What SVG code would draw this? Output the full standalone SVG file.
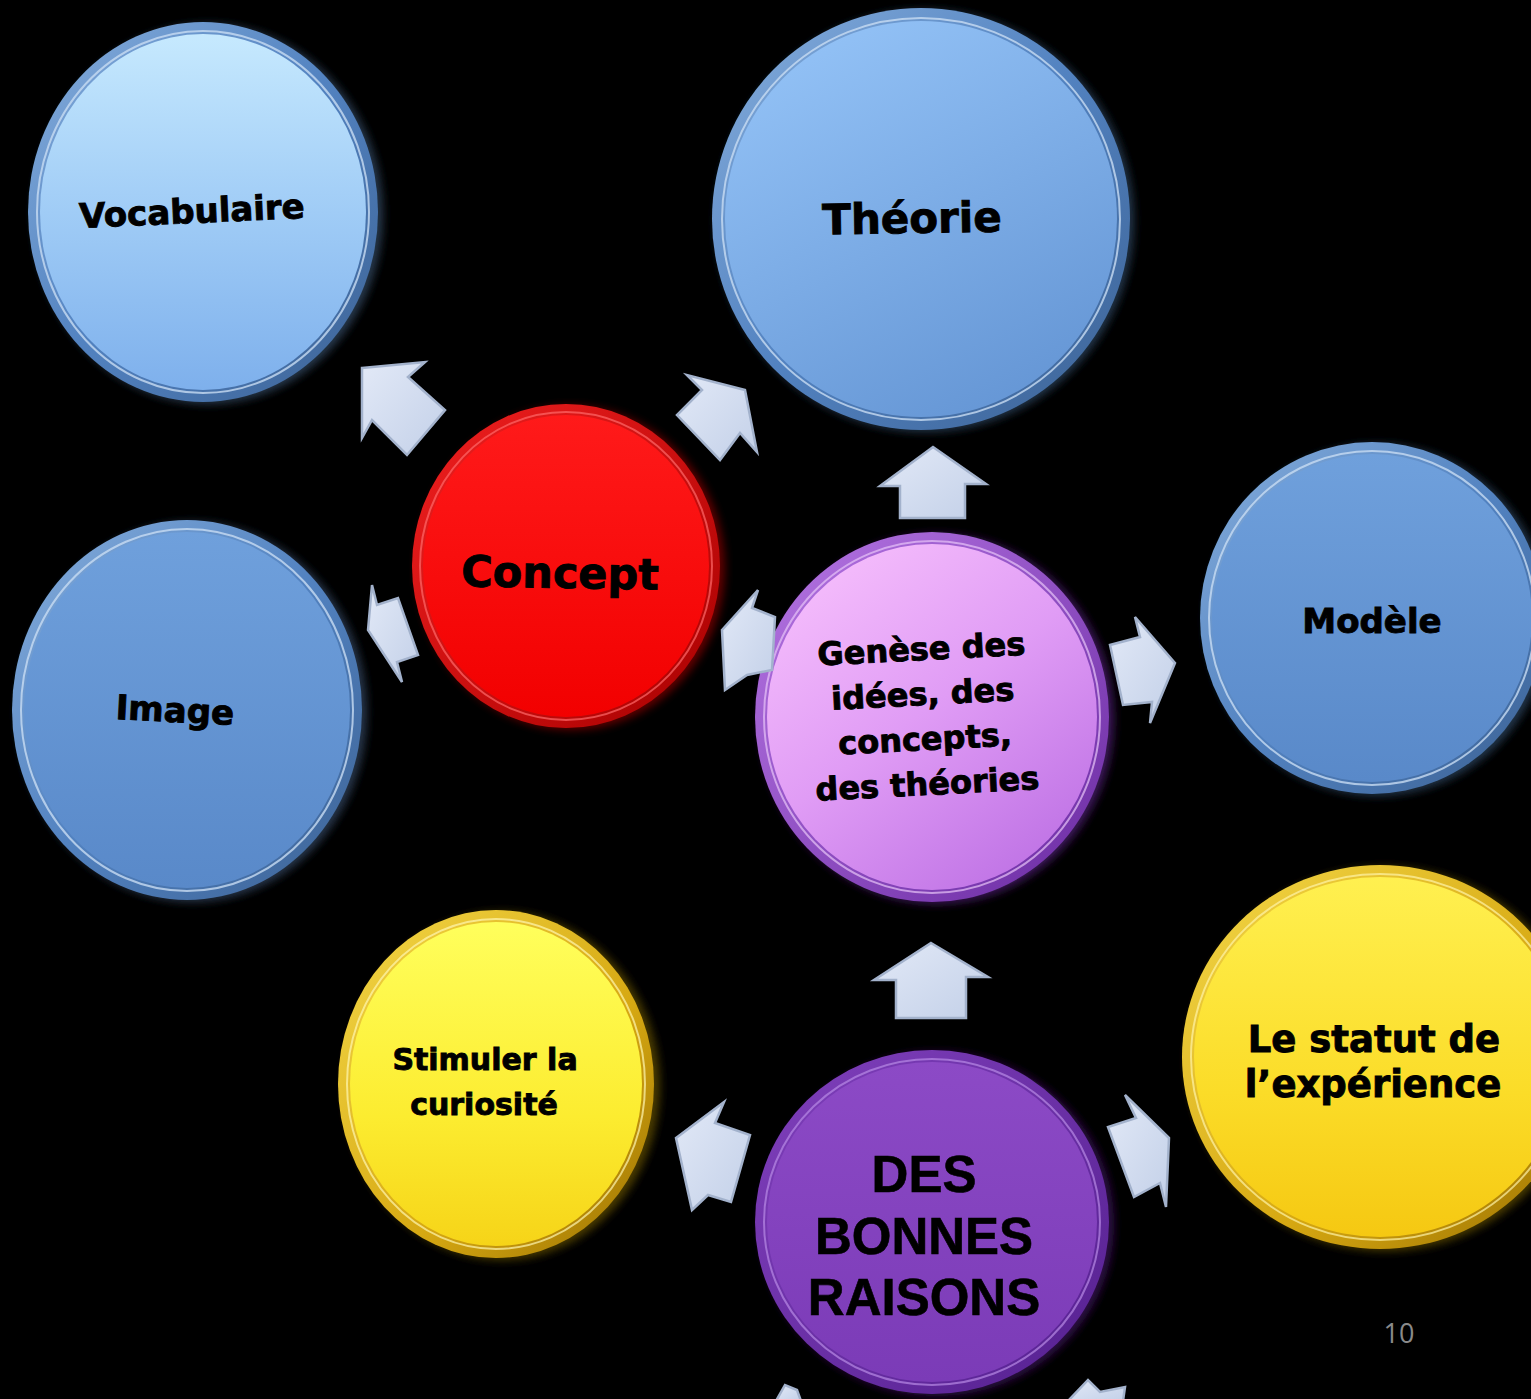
<svg xmlns="http://www.w3.org/2000/svg" width="1531" height="1399" viewBox="0 0 1531 1399">
  <defs>
    <style>
      .lbl { font-family: "DejaVu Sans", "Liberation Sans", sans-serif; font-weight: bold; fill: #000; stroke: #000; stroke-width: 0.9; text-anchor: middle; }
      .lbl2 { font-family: "Liberation Sans", Arial, sans-serif; font-weight: bold; fill: #000; stroke: #000; stroke-width: 0.6; text-anchor: middle; }
      .hl { fill: none; stroke-width: 2; }
      .arrow { fill: url(#gArrow); stroke: #a3b2cc; stroke-width: 2.5; stroke-linejoin: miter; }
      .page { font-family: "Open Sans", "Liberation Sans", sans-serif; font-size: 27px; fill: #8a8a8a; text-anchor: middle; }
    </style>
    <filter id="soft" x="-20%" y="-20%" width="140%" height="140%">
      <feGaussianBlur stdDeviation="4"/>
    </filter>
    <!-- bodies -->
    <linearGradient id="gVocab" x1="0" y1="0" x2="0" y2="1">
      <stop offset="0" stop-color="#c6e9fe"/>
      <stop offset="0.5" stop-color="#a0ccf6"/>
      <stop offset="1" stop-color="#7eb0ec"/>
    </linearGradient>
    <linearGradient id="gTheo" x1="0.2" y1="0" x2="0.7" y2="1">
      <stop offset="0" stop-color="#94c3f7"/>
      <stop offset="1" stop-color="#6596d5"/>
    </linearGradient>
    <linearGradient id="gBlue" x1="0" y1="0" x2="0" y2="1">
      <stop offset="0" stop-color="#6fa0dc"/>
      <stop offset="1" stop-color="#5989c9"/>
    </linearGradient>
    <linearGradient id="gRed" x1="0" y1="0" x2="0" y2="1">
      <stop offset="0" stop-color="#ff1a1a"/>
      <stop offset="1" stop-color="#f20000"/>
    </linearGradient>
    <linearGradient id="gGenese" x1="0.1" y1="0" x2="0.8" y2="1">
      <stop offset="0" stop-color="#f8c2fd"/>
      <stop offset="0.5" stop-color="#e09cf5"/>
      <stop offset="1" stop-color="#bd70e4"/>
    </linearGradient>
    <linearGradient id="gDes" x1="0" y1="0" x2="0" y2="1">
      <stop offset="0" stop-color="#8c4ac6"/>
      <stop offset="1" stop-color="#7b3bb7"/>
    </linearGradient>
    <linearGradient id="gYellowA" x1="0" y1="0" x2="0" y2="1">
      <stop offset="0" stop-color="#ffff5c"/>
      <stop offset="0.6" stop-color="#fcec30"/>
      <stop offset="1" stop-color="#f6d418"/>
    </linearGradient>
    <linearGradient id="gYellowB" x1="0" y1="0" x2="0" y2="1">
      <stop offset="0" stop-color="#fff050"/>
      <stop offset="0.6" stop-color="#fbdc28"/>
      <stop offset="1" stop-color="#f5c812"/>
    </linearGradient>
    <!-- rims -->
    <linearGradient id="rBlue" x1="0" y1="0" x2="1" y2="1">
      <stop offset="0" stop-color="#86aedc"/>
      <stop offset="0.5" stop-color="#5282c0"/>
      <stop offset="1" stop-color="#3c6294"/>
    </linearGradient>
    <linearGradient id="rRed" x1="0" y1="0" x2="1" y2="1">
      <stop offset="0" stop-color="#f02020"/>
      <stop offset="1" stop-color="#a80000"/>
    </linearGradient>
    <linearGradient id="rViolet" x1="0" y1="0" x2="1" y2="1">
      <stop offset="0" stop-color="#b676e4"/>
      <stop offset="1" stop-color="#6a2aa2"/>
    </linearGradient>
    <linearGradient id="rDes" x1="0" y1="0" x2="1" y2="1">
      <stop offset="0" stop-color="#8040bc"/>
      <stop offset="1" stop-color="#552090"/>
    </linearGradient>
    <linearGradient id="rGold" x1="0" y1="0" x2="1" y2="1">
      <stop offset="0" stop-color="#f4d848"/>
      <stop offset="0.6" stop-color="#d6a812"/>
      <stop offset="1" stop-color="#9a7000"/>
    </linearGradient>
    <linearGradient id="gArrow" x1="0" y1="0" x2="1" y2="1">
      <stop offset="0" stop-color="#e2e9f7"/>
      <stop offset="1" stop-color="#c3d0e8"/>
    </linearGradient>
  </defs>

  <rect x="0" y="0" width="1531" height="1399" fill="#000"/>

  <!-- Vocabulaire -->
  <g id="node-vocabulaire">
    <ellipse cx="208" cy="214" rx="175" ry="190" fill="#28384c" filter="url(#soft)"/>
    <ellipse cx="203" cy="212" rx="175" ry="190" fill="url(#rBlue)"/>
    <ellipse cx="203" cy="212" rx="166" ry="181" class="hl" stroke="#c8dcf2" opacity="0.8"/>
    <ellipse cx="203" cy="212" rx="163" ry="178" fill="url(#gVocab)"/>
    <text class="lbl" x="192" y="223" font-size="34" transform="rotate(-2.5 192 212)">Vocabulaire</text>
  </g>

  <!-- Théorie -->
  <g id="node-theorie">
    <ellipse cx="925" cy="221" rx="209" ry="211" fill="#23344a" filter="url(#soft)"/>
    <ellipse cx="921" cy="219" rx="209" ry="211" fill="url(#rBlue)"/>
    <ellipse cx="921" cy="219" rx="199" ry="201" class="hl" stroke="#c8dcf2" opacity="0.8"/>
    <ellipse cx="921" cy="219" rx="196" ry="198" fill="url(#gTheo)"/>
    <text class="lbl" x="912" y="233" font-size="42" transform="rotate(-1 912 220)">Théorie</text>
  </g>

  <!-- Concept -->
  <g id="node-concept">
    <ellipse cx="571" cy="568" rx="154" ry="162" fill="#600000" filter="url(#soft)"/>
    <ellipse cx="566" cy="566" rx="154" ry="162" fill="url(#rRed)"/>
    <ellipse cx="566" cy="566" rx="146" ry="154" class="hl" stroke="#ff6a6a" opacity="0.7"/>
    <ellipse cx="566" cy="566" rx="143" ry="151" fill="url(#gRed)"/>
    <text class="lbl" x="560" y="588" font-size="43" transform="rotate(1 560 575)">Concept</text>
  </g>

  <!-- Image -->
  <g id="node-image">
    <ellipse cx="192" cy="712" rx="175" ry="190" fill="#26364a" filter="url(#soft)"/>
    <ellipse cx="187" cy="710" rx="175" ry="190" fill="url(#rBlue)"/>
    <ellipse cx="187" cy="710" rx="166" ry="181" class="hl" stroke="#c8dcf2" opacity="0.8"/>
    <ellipse cx="187" cy="710" rx="163" ry="178" fill="url(#gBlue)"/>
    <text class="lbl" x="175" y="722" font-size="34" transform="rotate(3 175 710)">Image</text>
  </g>

  <!-- Genèse des idées -->
  <g id="node-genese">
    <ellipse cx="937" cy="719" rx="177" ry="185" fill="#3a1856" filter="url(#soft)"/>
    <ellipse cx="932" cy="717" rx="177" ry="185" fill="url(#rViolet)"/>
    <ellipse cx="932" cy="717" rx="168" ry="176" class="hl" stroke="#e8c4f8" opacity="0.7"/>
    <ellipse cx="932" cy="717" rx="165" ry="173" fill="url(#gGenese)"/>
    <g transform="rotate(-3 925 720)">
      <text class="lbl" x="925" y="660" font-size="32">Genèse des</text>
      <text class="lbl" x="924" y="705" font-size="32">idées, des</text>
      <text class="lbl" x="924" y="750" font-size="32">concepts,</text>
      <text class="lbl" x="924" y="795" font-size="32">des théories</text>
    </g>
  </g>

  <!-- Modèle -->
  <g id="node-modele">
    <ellipse cx="1377" cy="620" rx="172" ry="176" fill="#23344a" filter="url(#soft)"/>
    <ellipse cx="1372" cy="618" rx="172" ry="176" fill="url(#rBlue)"/>
    <ellipse cx="1372" cy="618" rx="163" ry="167" class="hl" stroke="#c8dcf2" opacity="0.8"/>
    <ellipse cx="1372" cy="618" rx="160" ry="164" fill="url(#gBlue)"/>
    <text class="lbl" x="1372" y="633" font-size="34">Modèle</text>
  </g>

  <!-- Stimuler la curiosité -->
  <g id="node-stimuler">
    <ellipse cx="502" cy="1086" rx="158" ry="174" fill="#4a3a00" filter="url(#soft)"/>
    <ellipse cx="496" cy="1084" rx="158" ry="174" fill="url(#rGold)"/>
    <ellipse cx="496" cy="1084" rx="149" ry="165" class="hl" stroke="#fff6b0" opacity="0.7"/>
    <ellipse cx="496" cy="1084" rx="146" ry="162" fill="url(#gYellowA)"/>
    <text class="lbl" x="485" y="1070" font-size="30">Stimuler la</text>
    <text class="lbl" x="484" y="1115" font-size="30">curiosité</text>
  </g>

  <!-- Le statut de l'expérience -->
  <g id="node-statut">
    <ellipse cx="1385" cy="1059" rx="198" ry="192" fill="#4a3a00" filter="url(#soft)"/>
    <ellipse cx="1380" cy="1057" rx="198" ry="192" fill="url(#rGold)"/>
    <ellipse cx="1380" cy="1057" rx="189" ry="183" class="hl" stroke="#fff4a8" opacity="0.7"/>
    <ellipse cx="1380" cy="1057" rx="186" ry="180" fill="url(#gYellowB)"/>
    <text class="lbl" x="1374" y="1052" font-size="37">Le statut de</text>
    <text class="lbl" x="1373" y="1097" font-size="37">l’expérience</text>
  </g>

  <!-- Des bonnes raisons -->
  <g id="node-raisons">
    <ellipse cx="937" cy="1224" rx="177" ry="172" fill="#2e1046" filter="url(#soft)"/>
    <ellipse cx="932" cy="1222" rx="177" ry="172" fill="url(#rDes)"/>
    <ellipse cx="932" cy="1222" rx="168" ry="163" class="hl" stroke="#b88ae6" opacity="0.7"/>
    <ellipse cx="932" cy="1222" rx="165" ry="160" fill="url(#gDes)"/>
    <text class="lbl2" x="924" y="1192" font-size="51">DES</text>
    <text class="lbl2" x="924" y="1254" font-size="51">BONNES</text>
    <text class="lbl2" x="924" y="1315" font-size="51">RAISONS</text>
  </g>

  <!-- block arrows between the circles -->
  <g id="connectors">
    <polygon class="arrow" points="362,368 425,362 408,377 445,410 407,455 372,420 362,438"/>
    <polygon class="arrow" points="745,390 687,375 702,390 677,415 720,460 740,433 757,452"/>
    <polygon class="arrow" points="933,447 986,484 965,484 965,518 900,518 900,486 880,486"/>
    <polygon class="arrow" points="368,630 372,585 377,605 398,598 418,655 397,662 402,682"/>
    <polygon class="arrow" points="722,630 758,590 752,608 775,617 772,670 747,675 725,690"/>
    <polygon class="arrow" points="1175,663 1135,617 1140,637 1110,645 1123,705 1152,702 1150,723"/>
    <polygon class="arrow" points="931,943 988,977 966,977 966,1018 896,1018 896,980 874,980"/>
    <polygon class="arrow" points="676,1138 724,1102 715,1123 750,1135 731,1202 708,1195 692,1210"/>
    <polygon class="arrow" points="1169,1138 1125,1095 1136,1118 1108,1127 1134,1197 1160,1183 1166,1207"/>
    <polygon class="arrow" points="776,1401 785,1385 797,1390 801,1401"/>
    <polygon class="arrow" points="1068,1401 1088,1380 1100,1392 1125,1387 1123,1401"/>
  </g>

  <text class="page" x="1399" y="1343">10</text>
</svg>
